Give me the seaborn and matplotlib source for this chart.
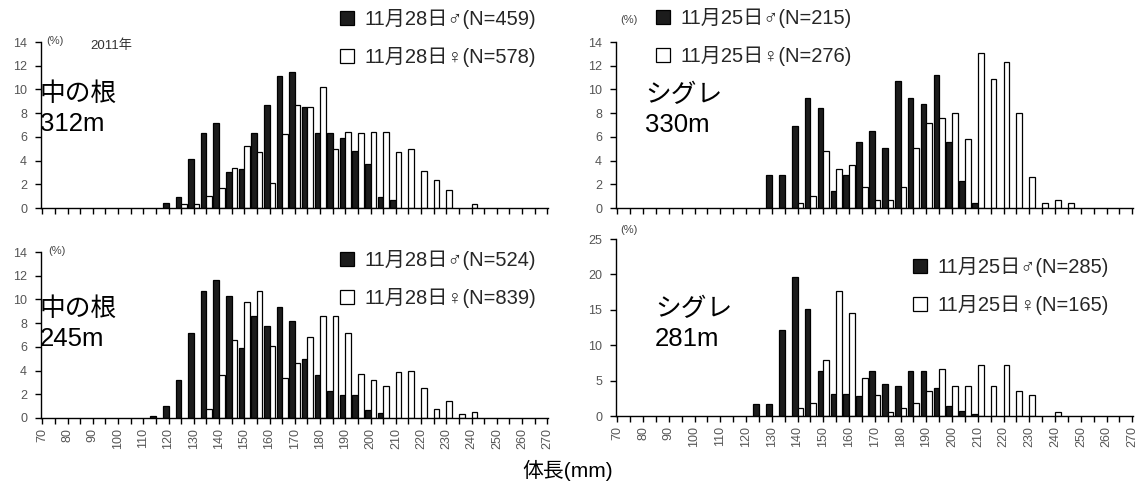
import matplotlib
matplotlib.use("Agg")
import matplotlib.pyplot as plt
import numpy as np
import pandas as pd
import seaborn as sns

# Body-length classes (mm), 5 mm steps
bins = list(range(70, 275, 5))
tick_labels = [str(b) if b % 10 == 0 else "" for b in bins]

# 中の根 312m (2011/11/28)
nakanone312_len = list(range(120, 245, 5))
nakanone312_male = [0.4, 0.9, 4.1, 6.3, 7.2, 3.0, 3.3, 6.3, 8.7, 11.1, 11.5, 8.5, 6.3,
                    6.3, 5.9, 4.8, 3.7, 0.9, 0.7, 0, 0, 0, 0, 0, 0]
nakanone312_female = [0, 0.3, 0.3, 1.0, 1.7, 3.4, 5.2, 4.7, 2.1, 6.2, 8.7, 8.5, 10.2,
                      5.0, 6.4, 6.3, 6.4, 6.4, 4.7, 5.0, 3.1, 2.4, 1.5, 0, 0.3]

# シグレ 330m (2011/11/25)
shigure330_len = list(range(130, 250, 5))
shigure330_male = [2.8, 2.8, 6.9, 9.3, 8.4, 1.4, 2.8, 5.6, 6.5, 5.1, 10.7, 9.3, 8.8,
                   11.2, 5.6, 2.3, 0.4, 0, 0, 0, 0, 0, 0, 0]
shigure330_female = [0, 0, 0.4, 1.0, 4.8, 3.3, 3.6, 1.8, 0.7, 0.7, 1.8, 5.1, 7.2,
                     7.6, 8.0, 5.8, 13.1, 10.9, 12.3, 8.0, 2.6, 0.4, 0.7, 0.4]

# 中の根 245m (2011/11/28)
nakanone245_len = list(range(115, 245, 5))
nakanone245_male = [0.2, 1.0, 3.2, 7.2, 10.7, 11.6, 10.3, 5.9, 8.6, 7.8, 9.4, 8.2, 5.0,
                    3.6, 2.3, 1.9, 1.9, 0.7, 0.4, 0, 0, 0, 0, 0, 0, 0]
nakanone245_female = [0, 0, 0, 0, 0.8, 3.6, 6.6, 9.8, 10.7, 6.1, 3.4, 4.6, 6.8,
                      8.6, 8.6, 7.2, 3.7, 3.2, 2.7, 3.9, 4.0, 2.5, 0.8, 1.4, 0.3, 0.5]

# シグレ 281m (2011/11/25)
shigure281_len = list(range(125, 245, 5))
shigure281_male = [1.7, 1.7, 12.2, 19.6, 15.1, 6.3, 3.1, 3.1, 2.8, 6.3, 4.5, 4.2,
                   6.3, 6.3, 3.9, 1.4, 0.7, 0.3, 0, 0, 0, 0, 0, 0]
shigure281_female = [0, 0, 0, 1.2, 1.8, 7.9, 17.6, 14.5, 5.4, 3.0, 0.6, 1.2,
                     1.8, 3.6, 6.6, 4.3, 4.3, 7.2, 4.3, 7.2, 3.6, 3.0, 0, 0.6]

legend_tl = ["11月28日♂(N=459)", "11月28日♀(N=578)"]
legend_tr = ["11月25日♂(N=215)", "11月25日♀(N=276)"]
legend_bl = ["11月28日♂(N=524)", "11月28日♀(N=839)"]
legend_br = ["11月25日♂(N=285)", "11月25日♀(N=165)"]

sns.set_style("ticks")
plt.rcParams["font.family"] = ["Liberation Sans", "Noto Sans CJK JP", "DejaVu Sans"]

W, H = 1137, 486
fig = plt.figure(figsize=(W / 100, H / 100), dpi=100)


def px_axes(left, right, bottom, top):
    return fig.add_axes([left / W, 1 - bottom / H, (right - left) / W, (bottom - top) / H])


def draw_panel(ax, lengths, male, female, ymax, ystep, labels, leg_xy, title, title_xy,
               pct_xy):
    n = len(lengths)
    df = pd.DataFrame({
        "length": lengths * 2,
        "sex": ["♂"] * n + ["♀"] * n,
        "pct": list(male) + list(female),
    })
    df = df[df["pct"] > 0]
    sns.barplot(data=df, x="length", y="pct", hue="sex", order=bins,
                hue_order=["♂", "♀"], palette={"♂": "#1c1c1c", "♀": "white"},
                edgecolor="black", linewidth=0.9, width=0.88, dodge=True,
                ax=ax, legend=True)
    ax.set_xlim(-0.1, len(bins) - 0.95)
    ax.set_ylim(0, ymax)
    ax.set_yticks(np.arange(0, ymax + 0.1, ystep))
    ax.set_xticks(range(len(bins)))
    ax.set_xticklabels(tick_labels, rotation=90)
    ax.set_xlabel("")
    ax.set_ylabel("")
    for s in ["top", "right"]:
        ax.spines[s].set_visible(False)
    for s in ["left", "bottom"]:
        ax.spines[s].set_color("black")
        ax.spines[s].set_linewidth(1.0)
    ax.tick_params(axis="both", direction="out", length=4, width=1, color="black",
                   labelsize=9, labelcolor="#555555", bottom=True, left=True)
    ax.tick_params(axis="y", pad=6)
    ax.tick_params(axis="x", pad=3)
    handles, _ = ax.get_legend_handles_labels()
    ax.legend(handles, labels, loc="upper left",
              bbox_to_anchor=(leg_xy[0] / W, 1 - leg_xy[1] / H),
              bbox_transform=fig.transFigure, frameon=False, fontsize=14.5,
              handlelength=0.7, handleheight=0.7, handletextpad=0.5,
              labelspacing=0.9, borderaxespad=0, borderpad=0)
    fig.text(title_xy[0] / W, 1 - title_xy[1] / H, title, fontsize=18.5,
             ha="left", va="top", linespacing=1.3, color="black")
    fig.text(pct_xy[0] / W, 1 - pct_xy[1] / H, "(%)", fontsize=8,
             ha="left", va="center", color="#444444")


ax_tl = px_axes(41, 548, 208, 42)
draw_panel(ax_tl, nakanone312_len, nakanone312_male, nakanone312_female, 14, 2,
           legend_tl, (340, 9), "中の根\n312m", (40, 82), (46, 41))
ax_tl.set_xticklabels([])
fig.text(90 / W, 1 - 46 / H, "2011年", fontsize=9.5, ha="left", va="center",
         color="#333333")

ax_tr = px_axes(616, 1133, 208, 42)
draw_panel(ax_tr, shigure330_len, shigure330_male, shigure330_female, 14, 2,
           legend_tr, (656, 8), "シグレ\n330m", (645, 83), (620, 20))
ax_tr.set_xticklabels([])

ax_bl = px_axes(41, 548, 418, 252)
draw_panel(ax_bl, nakanone245_len, nakanone245_male, nakanone245_female, 14, 2,
           legend_bl, (340, 250), "中の根\n245m", (40, 297), (48, 251))

ax_br = px_axes(616, 1133, 416, 239)
draw_panel(ax_br, shigure281_len, shigure281_male, shigure281_female, 25, 5,
           legend_br, (913, 257), "シグレ\n281m", (655, 297), (620, 230))

fig.text(568 / W, 1 - 470 / H, "体長(mm)", fontsize=15, ha="center", va="center",
         color="black")

fig.savefig("out.png", dpi=100, facecolor="white")
